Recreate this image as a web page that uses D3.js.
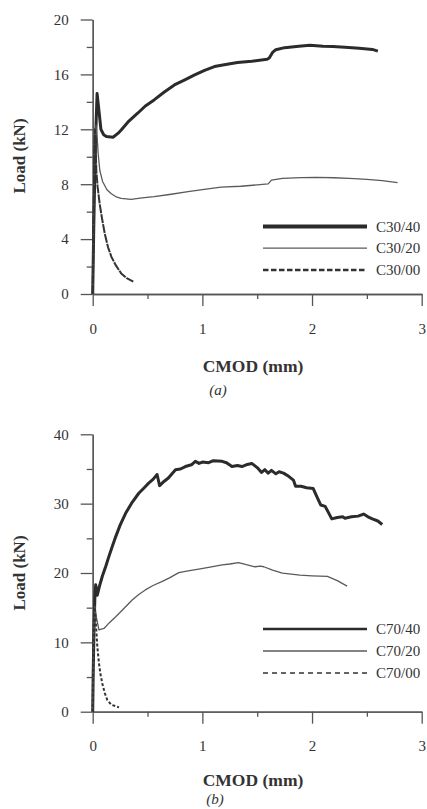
<!DOCTYPE html>
<html>
<head>
<meta charset="utf-8">
<script src="https://cdn.jsdelivr.net/npm/d3@7"></script>
<style>
  body { margin: 0; background: #fff; }
  svg { display: block; }
  text { font-family: "Liberation Serif", "DejaVu Serif", serif; fill: #333; }
</style>
</head>
<body>
<div id="chart"></div>
<script>
// ---- data (CMOD in mm, load in kN) ----
var c30_40 = [[0,0],[0.01,5],[0.025,11],[0.04,14.6],[0.055,13.5],[0.075,12.0],[0.1,11.6],[0.125,11.47],
  [0.185,11.42],[0.23,11.7],[0.26,11.95],[0.33,12.6],[0.41,13.17],[0.48,13.7],[0.56,14.14],[0.65,14.7],
  [0.745,15.23],[0.84,15.6],[0.93,15.96],[1.02,16.3],[1.11,16.57],[1.2,16.7],[1.32,16.86],[1.45,16.95],
  [1.59,17.1],[1.61,17.2],[1.64,17.6],[1.67,17.8],[1.75,17.95],[1.88,18.05],[1.98,18.12],[2.1,18.05],
  [2.19,18.03],[2.3,17.98],[2.43,17.9],[2.55,17.82],[2.6,17.7]];
var c30_20 = [[0,0],[0.01,6],[0.02,10.5],[0.03,12.3],[0.04,11.5],[0.05,10.2],[0.065,9.0],[0.09,8.2],
  [0.13,7.6],[0.17,7.3],[0.22,7.05],[0.26,6.97],[0.35,6.9],[0.45,7.0],[0.56,7.09],[0.7,7.25],[0.87,7.46],
  [1.0,7.6],[1.17,7.78],[1.35,7.85],[1.5,7.95],[1.6,8.02],[1.63,8.3],[1.73,8.42],[1.9,8.48],[2.04,8.5],
  [2.2,8.47],[2.34,8.43],[2.5,8.35],[2.64,8.26],[2.78,8.11]];
var c30_00 = [[0,0],[0.008,5],[0.015,10],[0.02,12.0],[0.025,11.2],[0.033,9.0],[0.045,7.8],[0.063,6.6],
  [0.085,5.5],[0.11,4.4],[0.14,3.4],[0.17,2.72],[0.21,2.1],[0.26,1.5],[0.31,1.15],[0.37,0.9]];

var c70_40 = [[0,0],[0.005,6],[0.012,12],[0.02,16.5],[0.027,18.3],[0.035,17.6],[0.042,16.8],[0.06,18.0],
  [0.087,19.5],[0.12,21.0],[0.148,22.4],[0.18,23.9],[0.21,25.25],[0.25,26.9],[0.3,28.6],[0.36,30.2],
  [0.42,31.5],[0.47,32.3],[0.51,32.96],[0.55,33.5],[0.587,34.2],[0.6,33.3],[0.61,32.6],[0.65,33.2],
  [0.69,33.7],[0.755,34.9],[0.8,35.0],[0.845,35.35],[0.9,35.6],[0.936,36.1],[0.97,35.8],[1.0,36.0],
  [1.057,35.9],[1.1,36.2],[1.18,36.1],[1.22,35.9],[1.27,35.35],[1.32,35.5],[1.36,35.35],[1.4,35.6],
  [1.45,35.8],[1.5,35.2],[1.54,34.5],[1.57,34.9],[1.6,34.4],[1.63,34.8],[1.67,34.3],[1.7,34.6],
  [1.74,34.4],[1.79,33.9],[1.83,33.4],[1.85,32.5],[1.9,32.5],[1.95,32.3],[2.01,32.2],[2.05,30.8],
  [2.08,29.8],[2.12,29.6],[2.15,28.7],[2.18,27.8],[2.23,28.0],[2.28,28.1],[2.3,27.9],[2.36,28.1],
  [2.42,28.2],[2.47,28.5],[2.51,28.1],[2.55,27.8],[2.6,27.5],[2.64,27.0]];
var c70_20 = [[0,0],[0.005,7],[0.012,13],[0.02,15.2],[0.035,13.5],[0.057,11.8],[0.08,11.9],[0.103,12.0],
  [0.15,12.8],[0.21,13.7],[0.28,14.8],[0.36,16.1],[0.42,16.9],[0.48,17.56],[0.55,18.2],[0.63,18.76],
  [0.7,19.3],[0.785,20.06],[0.87,20.3],[0.966,20.55],[1.07,20.85],[1.18,21.17],[1.25,21.3],[1.33,21.5],
  [1.4,21.2],[1.48,20.9],[1.53,21.0],[1.56,20.9],[1.64,20.4],[1.73,19.97],[1.89,19.7],[2.0,19.6],
  [2.14,19.5],[2.23,18.9],[2.32,18.1]];
var c70_00 = [[0,0],[0.005,8],[0.012,14.5],[0.02,15.0],[0.03,12.5],[0.042,9.4],[0.057,7.0],[0.07,5.5],
  [0.087,4.1],[0.11,2.7],[0.133,1.7],[0.17,1.0],[0.24,0.63]];

var labels_a = ["C30/40", "C30/20", "C30/00"];
var labels_b = ["C70/40", "C70/20", "C70/00"];

var x_ticks = [0, 1, 2, 3];
var x_minor = [0.5, 1.5, 2.5];
var y_ticks_a = [0, 4, 8, 12, 16, 20];
var y_minor_a = [2, 6, 10, 14, 18];
var y_ticks_b = [0, 10, 20, 30, 40];
var y_minor_b = [5, 15, 25, 35];

// line styles: thick, thin, dashed
var styles = [
    {color: "#2b2b2b", width: 3},
    {color: "#5a5a5a", width: 1.3},
    {color: "#333",    width: 2}
];

var svg = d3.select("#chart").append("svg")
    .attr("width", 427)
    .attr("height", 809);

function drawPanel(p) {
    var x = d3.scaleLinear().domain([0, 3]).range([92.7, 421.7]);
    var y = d3.scaleLinear().domain([0, p.y_max]).range([p.y0, p.y1]);
    var g = svg.append("g");

    //Minor ticks first, no labels
    g.append("g")
        .attr("transform", "translate(" + x(0) + ",0)")
        .call(d3.axisLeft(y).tickValues(p.y_minor).tickSize(6).tickSizeOuter(0).tickFormat(""));
    g.append("g")
        .attr("transform", "translate(0," + y(0) + ")")
        .call(d3.axisBottom(x).tickValues(x_minor).tickSize(5).tickSizeOuter(0).tickFormat(""));

    //Major axes
    g.append("g")
        .attr("transform", "translate(" + x(0) + ",0)")
        .call(d3.axisLeft(y).tickValues(p.y_ticks).tickSize(12).tickPadding(12)
            .tickSizeOuter(0).tickFormat(d3.format("d")));
    g.append("g")
        .attr("transform", "translate(0," + y(0) + ")")
        .call(d3.axisBottom(x).tickValues(x_ticks).tickSize(12).tickPadding(17)
            .tickSizeOuter(0).tickFormat(d3.format("d")));

    g.selectAll(".domain, .tick line").attr("stroke", "#555").attr("stroke-width", 1.3);
    g.selectAll(".tick text")
        .style("font-family", "'Liberation Serif', serif")
        .style("font-size", "15px")
        .attr("fill", "#444");

    //Curves
    var line = d3.line()
        .x(function(d) { return x(d[0]); })
        .y(function(d) { return y(d[1]); });

    p.series.forEach(function(s, i) {
        g.append("path")
            .attr("d", line(s))
            .attr("fill", "none")
            .attr("stroke", styles[i].color)
            .attr("stroke-width", styles[i].width)
            .attr("stroke-linejoin", "round")
            .attr("stroke-dasharray", p.curve_dash[i]);
    });

    //Legend
    p.labels.forEach(function(lab, i) {
        var ly = p.legend_y + i * p.legend_step;
        g.append("line")
            .attr("x1", 263).attr("x2", 367)
            .attr("y1", ly).attr("y2", ly)
            .attr("stroke", styles[i].color)
            .attr("stroke-width", p.legend_width[i])
            .attr("stroke-dasharray", i == 2 ? p.legend_dash : null);
        g.append("text")
            .attr("x", 376).attr("y", ly + 5)
            .style("font-size", "15px")
            .attr("fill", "#444")
            .text(lab);
    });

    //Axis titles
    g.append("text")
        .attr("transform", "translate(25," + p.ylab_y + ") rotate(-90)")
        .style("text-anchor", "middle")
        .style("font-size", "17px")
        .style("font-weight", "bold")
        .text("Load (kN)");
    g.append("text")
        .attr("x", 253).attr("y", p.xlab_y)
        .style("text-anchor", "middle")
        .style("font-size", "17.5px")
        .style("font-weight", "bold")
        .text("CMOD (mm)");
    g.append("text")
        .attr("x", p.cap_x).attr("y", p.cap_y)
        .style("text-anchor", "middle")
        .style("font-size", "15px")
        .style("font-style", "italic")
        .attr("fill", "#555")
        .text(p.caption);
}

drawPanel({
    y_max: 20, y0: 294, y1: 19.5,
    y_ticks: y_ticks_a, y_minor: y_minor_a,
    series: [c30_40, c30_20, c30_00],
    curve_dash: [null, null, "9,1"],
    labels: labels_a,
    legend_y: 226.5, legend_step: 21.7,
    legend_width: [4, 1.3, 2.5], legend_dash: "5.5,2.5",
    ylab_y: 156, xlab_y: 371.5,
    caption: "(a)", cap_x: 218, cap_y: 395
});

drawPanel({
    y_max: 40, y0: 711.7, y1: 434.3,
    y_ticks: y_ticks_b, y_minor: y_minor_b,
    series: [c70_40, c70_20, c70_00],
    curve_dash: [null, null, "3,2"],
    labels: labels_b,
    legend_y: 629, legend_step: 22,
    legend_width: [2.6, 1.3, 1.6], legend_dash: "5,4",
    ylab_y: 573, xlab_y: 786,
    caption: "(b)", cap_x: 215, cap_y: 804
});
</script>
</body>
</html>
